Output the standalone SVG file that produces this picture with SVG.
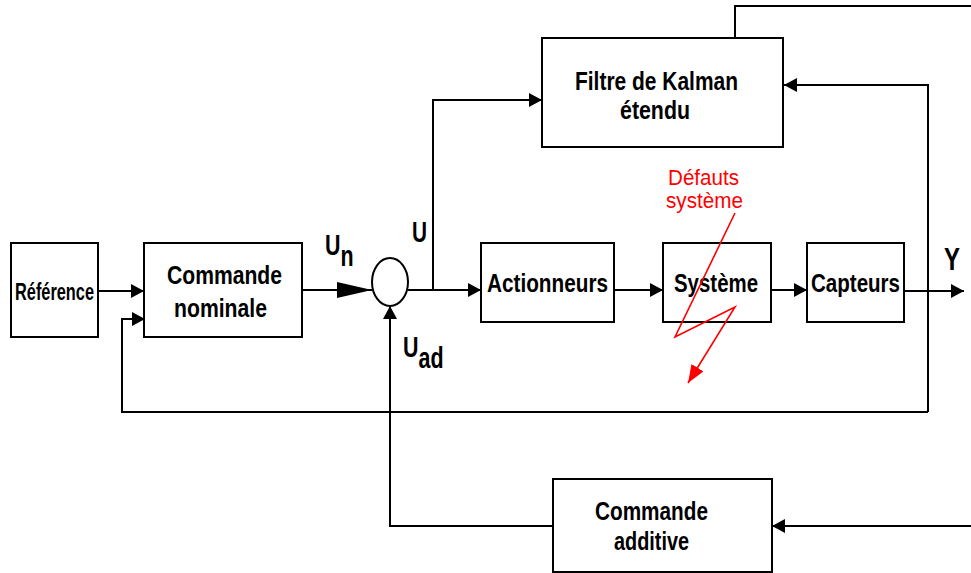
<svg xmlns="http://www.w3.org/2000/svg" width="971" height="573" viewBox="0 0 971 573">
<style>
.box{fill:#fff;stroke:#000;stroke-width:2}
.t{font-family:"Liberation Sans",Arial,sans-serif;font-weight:bold;font-size:26px;fill:#000}
.lbl{font-family:"Liberation Sans",Arial,sans-serif;font-weight:bold;font-size:29px;fill:#000}
.red{font-family:"Liberation Sans",Arial,sans-serif;font-size:22px;fill:#f00}
.ln{fill:none;stroke:#000;stroke-width:2}
.rl{fill:none;stroke:#f00;stroke-width:1.6}
</style>
<defs>
<marker id="ah" markerUnits="userSpaceOnUse" markerWidth="14" markerHeight="16" refX="13" refY="7" orient="auto">
<path d="M0,0 L13,7 L0,14 z" fill="#000"/>
</marker>
<marker id="big" markerUnits="userSpaceOnUse" markerWidth="36" markerHeight="18" refX="35" refY="8" orient="auto">
<path d="M0,0 L35,8 L0,16 z" fill="#000"/>
</marker>
<marker id="rah" markerUnits="userSpaceOnUse" markerWidth="20" markerHeight="16" refX="18" refY="7" orient="auto">
<path d="M0,0 L18,7 L0,14 z" fill="#f00"/>
</marker>
</defs>

<g id="connectors">
<path class="ln" d="M98 291 H144" marker-end="url(#ah)"/>
<path class="ln" d="M928 412 H122 V319 H145" marker-end="url(#ah)"/>
<path class="ln" d="M928 412 V85 H784" marker-end="url(#ah)"/>
<path class="ln" d="M735 38 V6 H971"/>
<path class="ln" d="M302 290 H372" marker-end="url(#big)"/>
<path class="ln" d="M408 290 H481" marker-end="url(#ah)"/>
<path class="ln" d="M433 290 V100 H542" marker-end="url(#ah)"/>
<path class="ln" d="M614 290 H663" marker-end="url(#ah)"/>
<path class="ln" d="M771 290 H807" marker-end="url(#ah)"/>
<path class="ln" d="M904 291 H964" marker-end="url(#ah)"/>
<path class="ln" d="M971 526 H772" marker-end="url(#ah)"/>
<path class="ln" d="M553 526 H390 V306" marker-end="url(#ah)"/>
</g>

<g id="reference">
<rect class="box" x="11" y="243" width="87" height="94"/>
<text class="t" x="15" y="300" style="font-size:23px" textLength="79" lengthAdjust="spacingAndGlyphs">Référence</text>
</g>
<g id="commande-nominale">
<rect class="box" x="144" y="243" width="158" height="94"/>
<text class="t" x="167" y="284" textLength="115" lengthAdjust="spacingAndGlyphs">Commande</text>
<text class="t" x="174" y="317" textLength="93" lengthAdjust="spacingAndGlyphs">nominale</text>
</g>
<g id="sommateur">
<ellipse cx="390" cy="282" rx="18" ry="24" fill="#fff" stroke="#000" stroke-width="2"/>
</g>
<g id="filtre-kalman">
<rect class="box" x="542" y="38" width="241" height="109"/>
<text class="t" x="575" y="90" textLength="163" lengthAdjust="spacingAndGlyphs">Filtre de Kalman</text>
<text class="t" x="620" y="119" textLength="70" lengthAdjust="spacingAndGlyphs">étendu</text>
</g>
<g id="actionneurs">
<rect class="box" x="481" y="243" width="133" height="79"/>
<text class="t" x="487" y="292" textLength="121" lengthAdjust="spacingAndGlyphs">Actionneurs</text>
</g>
<g id="systeme">
<rect class="box" x="663" y="243" width="108" height="79"/>
<text class="t" x="674" y="292" textLength="84" lengthAdjust="spacingAndGlyphs">Système</text>
</g>
<g id="capteurs">
<rect class="box" x="807" y="243" width="97" height="79"/>
<text class="t" x="811" y="292" textLength="89" lengthAdjust="spacingAndGlyphs">Capteurs</text>
</g>
<g id="commande-additive">
<rect class="box" x="553" y="479" width="219" height="93"/>
<text class="t" x="595" y="520" textLength="113" lengthAdjust="spacingAndGlyphs">Commande</text>
<text class="t" x="614" y="550" textLength="75" lengthAdjust="spacingAndGlyphs">additive</text>
</g>

<g id="labels">
<text class="lbl" transform="translate(325,255) scale(0.74,1)">U<tspan dy="11">n</tspan></text>
<text class="lbl" x="412" y="242" textLength="15" lengthAdjust="spacingAndGlyphs">U</text>
<text class="lbl" transform="translate(403,357) scale(0.74,1)">U<tspan dy="11">ad</tspan></text>
<text class="lbl" x="944" y="270" style="font-size:31px" textLength="16" lengthAdjust="spacingAndGlyphs">Y</text>
</g>

<g id="defauts">
<text class="red" x="668" y="185" textLength="71" lengthAdjust="spacingAndGlyphs">Défauts</text>
<text class="red" x="666" y="208" textLength="77" lengthAdjust="spacingAndGlyphs">système</text>
<path class="rl" d="M735 213 L675 337 L735 307 L688 383" marker-end="url(#rah)"/>
</g>
</svg>
